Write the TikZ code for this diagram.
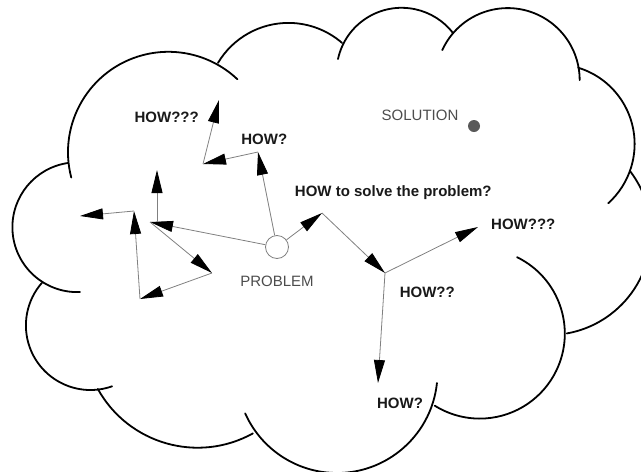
\documentclass[tikz,border=0pt]{standalone}
\usepackage{fontspec}
\setmainfont{Liberation Sans}
\usetikzlibrary{arrows.meta}

\begin{document}
\begin{tikzpicture}[x=1pt,y=-1pt,
  cloud/.style={line width=1.8pt, line cap=round},
  link/.style={draw=gray, line width=0.8pt, -{Triangle[length=23pt,width=11pt,black]}},
  how/.style={anchor=base, font=\fontsize{15}{18}\selectfont\bfseries, text=black!90},
  tag/.style={anchor=base, font=\fontsize{15}{18}\selectfont, text=black!70}]
\useasboundingbox (0,0) rectangle (641,472);

% the cloud, one arc per bump
\draw[cloud] (168.4,152.2) ++(165.4:100.4) arc[start angle=165.4, end angle=313.4, radius=100.4];
\draw[cloud] (288.4,104.9) ++(210.8:82) arc[start angle=210.8, end angle=310.9, radius=82];
\draw[cloud] (401.6,72.9) ++(192.3:65.1) arc[start angle=192.3, end angle=322.2, radius=65.1];
\draw[cloud] (507.7,80.1) ++(204.6:72) arc[start angle=204.6, end angle=360, radius=72];
\draw[cloud] (554.8,144) ++(-73:79.8) arc[start angle=-73, end angle=48, radius=79.8];
\draw[cloud] (549,233) ++(-37:102) arc[start angle=-37, end angle=80, radius=102];
\draw[cloud] (479.8,333.6) ++(-64:85) arc[start angle=-64, end angle=122, radius=85];
\draw[cloud] (337,372.5) ++(6:100.5) arc[start angle=6, end angle=156, radius=100.5];
\draw[cloud] (197.6,333.6) ++(61:114.1) arc[start angle=61, end angle=151, radius=114.1];
\draw[cloud] (90.5,325.4) ++(70.5:64.6) arc[start angle=70.5, end angle=221.2, radius=64.6];
\draw[cloud] (77.3,227.2) ++(87.6:64.9) arc[start angle=87.6, end angle=261.8, radius=64.9];

% problem and solution
\node[circle, draw=gray, line width=0.8pt, fill=white, minimum size=23pt, inner sep=0pt] (problem) at (277,247) {};
\node[circle, fill=black!65, minimum size=12pt, inner sep=0pt] (solution) at (474,126) {};
\node[tag] (problemlbl) at (277,286.7) {PROBLEM};
\node[tag] (solutionlbl) at (420,120.7) {SOLUTION};

% turning points of the paths
\coordinate (l1) at (150,222);
\coordinate (l1b) at (157,222);
\coordinate (l2) at (157,170);
\coordinate (l3) at (212,273);
\coordinate (l4) at (140,299);
\coordinate (l5) at (134,211);
\coordinate (l6) at (80,216);
\coordinate (u1) at (258,152);
\coordinate (u2) at (203,164);
\coordinate (u3) at (219,100);
\coordinate (r1) at (322,213);
\coordinate (r2) at (385,273);
\coordinate (r3) at (478,227);
\coordinate (r4) at (378,383);

\draw[link] (problem) -- (l1);
\draw[link] (l1b) -- (l2);
\draw[link] (l1) -- (l3);
\draw[link] (l3) -- (l4);
\draw[link] (l4) -- (l5);
\draw[link] (l5) -- (l6);
\draw[link] (problem) -- (u1);
\draw[link] (u1) -- (u2);
\draw[link] (u2) -- (u3);
\draw[link] (problem) -- (r1);
\draw[link] (r1) -- (r2);
\draw[link] (r2) -- (r3);
\draw[link] (r2) -- (r4);

% questions
\node[how] (howmain) at (393.3,196.7) {HOW to solve the problem?};
\node[how] (howa) at (166.7,122.7) {HOW???};
\node[how] (howb) at (264.3,144) {HOW?};
\node[how] (howc) at (523.3,229.3) {HOW???};
\node[how] (howd) at (427.3,297.7) {HOW??};
\node[how] (howe) at (400,408.7) {HOW?};
\end{tikzpicture}
\end{document}
